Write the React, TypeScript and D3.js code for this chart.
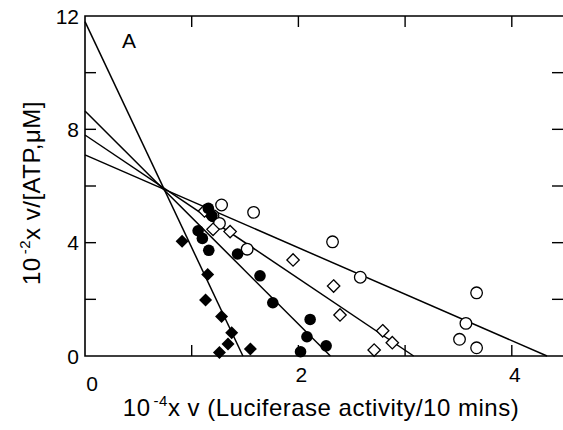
import React from "react";
import * as d3 from "d3";

// Data
const filledDiamonds: [number, number][] = [
  [0.91, 4.05], [1.15, 2.88], [1.13, 1.98], [1.28, 1.39], [1.375, 0.82],
  [1.34, 0.42], [1.26, 0.12], [1.55, 0.25],
];
const filledCircles: [number, number][] = [
  [1.156, 5.21], [1.19, 4.95], [1.06, 4.42], [1.10, 4.15], [1.16, 3.73],
  [1.43, 3.6], [1.64, 2.83], [1.76, 1.88], [2.11, 1.29], [2.08, 0.68],
  [2.26, 0.36], [2.02, 0.15],
];
const openDiamonds: [number, number][] = [
  [1.12, 5.12], [1.2, 4.47], [1.36, 4.39], [1.95, 3.39], [2.33, 2.47],
  [2.39, 1.45], [2.79, 0.89], [2.88, 0.47], [2.71, 0.21],
];
const openCircles: [number, number][] = [
  [1.2, 4.95], [1.28, 5.33], [1.26, 4.68], [1.52, 3.77], [1.58, 5.07],
  [2.32, 4.03], [2.58, 2.78], [3.67, 2.23], [3.57, 1.15], [3.51, 0.59],
  [3.67, 0.29],
];
const lineYIntercepts = [11.8, 8.65, 7.8, 7.1];
const lineXIntercepts = [1.48, 2.3, 3.08, 4.33];
const xTicks = [1, 2, 3, 4];
const xTickLabels = [0, 2, 4];
const yTicks = [2, 4, 6, 8, 10];
const yTickLabels = [0, 4, 8, 12];
const panelLabel = "A";

const W = 563;
const H = 430;
const FONT = "'Liberation Sans', Arial, Helvetica, sans-serif";

export default function App() {
  const x = d3.scaleLinear().domain([0, 4.5]).range([85, 565.15]);
  const y = d3.scaleLinear().domain([0, 12]).range([356, 16]);
  const line = d3.line<[number, number]>().x((d) => x(d[0])).y((d) => y(d[1]));
  const diamond = (cx: number, cy: number, r: number) =>
    `M${cx},${cy - r}L${cx + r},${cy}L${cx},${cy + r}L${cx - r},${cy}Z`;
  const tickLen = 11;

  return (
    <div style={{ position: "absolute", left: 0, top: 0 }}>
      <svg width={W} height={H} style={{ display: "block", background: "#fff" }}>
        <g fontFamily={FONT} fill="#000">
          {/* frame */}
          <path
            d={`M${x(4.5)},${y(12)}H${x(0)}V${y(0)}H${x(4.5)}V${y(12)}`}
            fill="none"
            stroke="#000"
            strokeWidth={1.6}
          />
          {/* x ticks top & bottom */}
          {xTicks.map((t) => (
            <g key={"xt" + t} stroke="#000" strokeWidth={1.4}>
              <line x1={x(t)} x2={x(t)} y1={y(12)} y2={y(12) + tickLen} />
              <line x1={x(t)} x2={x(t)} y1={y(0)} y2={y(0) - tickLen} />
            </g>
          ))}
          {/* y ticks left & right */}
          {yTicks.map((t) => (
            <g key={"yt" + t} stroke="#000" strokeWidth={1.4}>
              <line x1={x(0)} x2={x(0) + tickLen} y1={y(t)} y2={y(t)} />
              <line x1={563} x2={563 - tickLen} y1={y(t)} y2={y(t)} />
            </g>
          ))}
          {/* tick labels */}
          {yTickLabels.map((t) => (
            <text key={"yl" + t} x={79} y={y(t) + 7.5} fontSize={21} textAnchor="end">
              {t}
            </text>
          ))}
          {xTickLabels.map((t) => (
            <text
              key={"xl" + t}
              x={t === 0 ? 92 : x(t) + 3}
              y={t === 0 ? 391 : 382}
              fontSize={21}
              textAnchor="middle"
            >
              {t}
            </text>
          ))}
          {/* axis titles */}
          <text x={321} y={416} fontSize={24} textAnchor="middle" letterSpacing={0.5}>
            10
            <tspan fontSize={15} dy={-10} dx={3}>-4</tspan>
            <tspan dy={10}>x v (Luciferase activity/10 mins)</tspan>
          </text>
          <text
            transform={`translate(40,${193}) rotate(-90)`}
            fontSize={24}
            textAnchor="middle"
            letterSpacing={0.5}
          >
            10
            <tspan fontSize={15} dy={-10} dx={3}>-2</tspan>
            <tspan dy={10}>x v/[ATP,μM]</tspan>
          </text>
          <text x={122} y={48} fontSize={21}>
            {panelLabel}
          </text>
          {/* fitted lines */}
          {lineYIntercepts.map((b, i) => (
            <path
              key={"l" + i}
              d={line([[0, b], [lineXIntercepts[i], 0]]) || ""}
              fill="none"
              stroke="#000"
              strokeWidth={1.5}
            />
          ))}
          {/* markers */}
          {openCircles.map((d, i) => (
            <circle key={"oc" + i} cx={x(d[0])} cy={y(d[1])} r={5.8} fill="#fff" stroke="#000" strokeWidth={1.3} />
          ))}
          {openDiamonds.map((d, i) => (
            <path key={"od" + i} d={diamond(x(d[0]), y(d[1]), 6.2)} fill="#fff" stroke="#000" strokeWidth={1.3} />
          ))}
          {filledCircles.map((d, i) => (
            <circle key={"fc" + i} cx={x(d[0])} cy={y(d[1])} r={5.8} fill="#000" />
          ))}
          {filledDiamonds.map((d, i) => (
            <path key={"fd" + i} d={diamond(x(d[0]), y(d[1]), 6.5)} fill="#000" />
          ))}
        </g>
      </svg>
    </div>
  );
}
